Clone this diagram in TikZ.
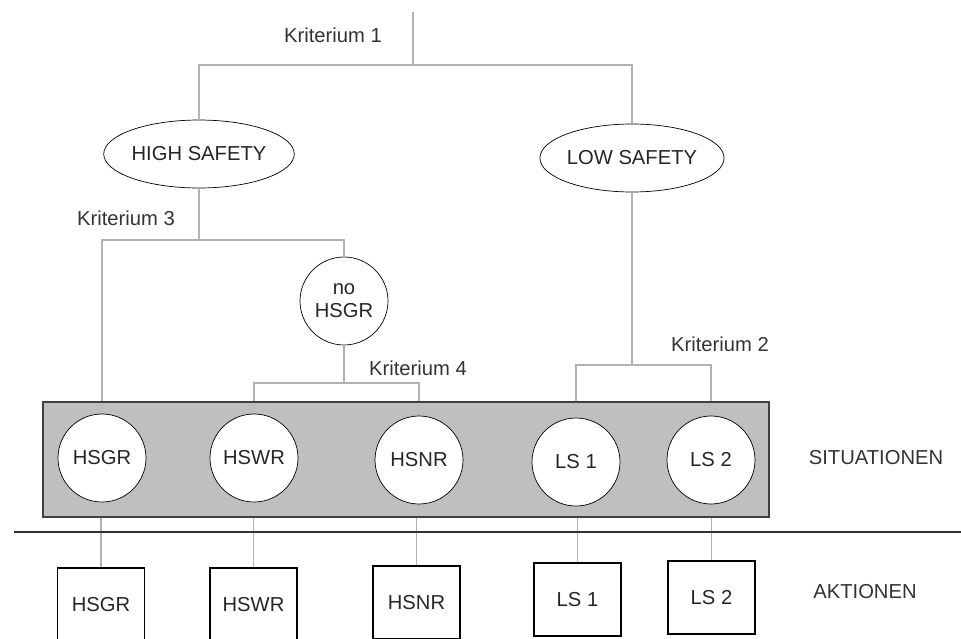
\documentclass[tikz,border=0pt]{standalone}
\usepackage{fontspec}
\setmainfont{Liberation Sans}
\usetikzlibrary{shapes.geometric, positioning}

\begin{document}
\begin{tikzpicture}[x=0.02cm, y=-0.02cm, font=\fontsize{11.5}{13}\selectfont,
		branch/.style={draw=black!30, line width=1.1pt},
		safety/.style={draw, ellipse, thin, fill=white, text=black!85, minimum width=3.64cm, minimum height=1.36cm, inner sep=0pt},
		state/.style={draw, circle, thin, fill=white, text=black!85, minimum size=1.76cm, inner sep=0pt, align=center},
		action/.style={draw, line width=0.65pt, text=black!85, minimum width=1.74cm, minimum height=1.46cm},
		crit/.style={text=black!80}]
		\clip (0,0) rectangle (961,639);
		% situations box
		\node[draw=black!75, fill=black!25, line width=1.2pt, minimum width=14.52cm, minimum height=2.3cm] (situ) at (406,459.5) {};
		\node[safety] (high) at (199,154) {HIGH SAFETY};
		\node[safety] (low) at (632,158) {LOW SAFETY};
		\node[state] (nohsgr) at (344,301) {no\\HSGR};
		\foreach \name/\txt/\x/\y in {hsgr/HSGR/102/458, hswr/HSWR/254/458, hsnr/HSNR/419/460, ls1/LS 1/576/462, ls2/LS 2/711/460}
			\node[state] (\name) at (\x,\y) {\txt};
		\foreach \name/\txt/\x/\y in {hsgr/HSGR/101/604.5, hswr/HSWR/253.5/604.5, hsnr/HSNR/416.5/602.5, ls1/LS 1/577.5/599.5, ls2/LS 2/711.5/597.5}
			\node[action] (\name-a) at (\x,\y) {\txt};
		\node[crit] (crit1) at (333,35) {Kriterium 1};
		\node[crit] (crit3) at (126,218) {Kriterium 3};
		\node[crit] (crit4) at (418,368) {Kriterium 4};
		\node[crit] (crit2) at (720,344) {Kriterium 2};
		\node[crit] (situlabel) at (876,458) {SITUATIONEN};
		\node[crit] (aktlabel) at (865,592) {AKTIONEN};
		% tree
		\coordinate (top) at (413,12);
		\coordinate (k1) at (413,65);
		\coordinate (k3) at (199,240);
		\coordinate (k4) at (344,383);
		\coordinate (k2) at (632,365);
		\draw[branch] (top) -- (k1);
		\draw[branch] (high.north) |- (k1) -| (low.north);
		\draw[branch] (high.south) -- (k3);
		\draw[branch] (hsgr |- situ.north) |- (k3) -| (nohsgr.north);
		\draw[branch] (nohsgr.south) -- (k4);
		\draw[branch] (hswr |- situ.north) |- (k4) -| (hsnr |- situ.north);
		\draw[branch] (low.south) -- (k2);
		\draw[branch] (ls1 |- situ.north) |- (k2) -| (ls2 |- situ.north);
		\foreach \name in {hsgr, hswr, hsnr, ls1, ls2}
			\draw[branch] (\name-a |- situ.south) -- (\name-a.north);
		% divider
		\coordinate (divl) at (14,532);
		\coordinate (divr) at (961,532);
		\draw[black!80, line width=1pt] (divl) -- (divr);
	\end{tikzpicture}
\end{document}
